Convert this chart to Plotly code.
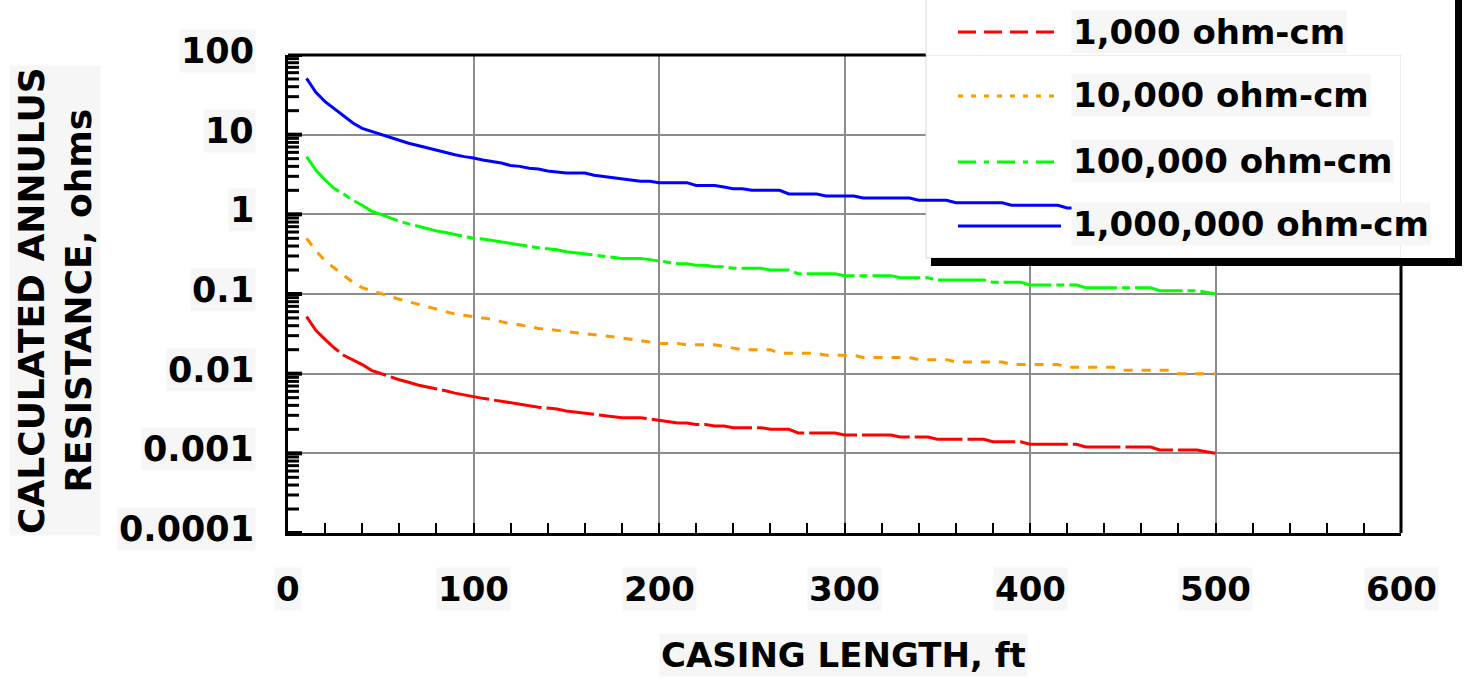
import math
import plotly.graph_objects as go

# Casing length, ft
casing_length = [
    10, 15, 20, 25, 30, 35, 40, 45, 50, 55,
    60, 65, 70, 75, 80, 85, 90, 95, 100, 105,
    110, 115, 120, 125, 130, 135, 140, 145, 150, 155,
    160, 165, 170, 175, 180, 185, 190, 195, 200, 205,
    210, 215, 220, 225, 230, 235, 240, 245, 250, 255,
    260, 265, 270, 275, 280, 285, 290, 295, 300, 305,
    310, 315, 320, 325, 330, 335, 340, 345, 350, 355,
    360, 365, 370, 375, 380, 385, 390, 395, 400, 405,
    410, 415, 420, 425, 430, 435, 440, 445, 450, 455,
    460, 465, 470, 475, 480, 485, 490, 495, 500,
]

# Calculated annulus resistance, ohms, for each soil resistivity
r_1000 = [
    0.052, 0.035, 0.027, 0.021, 0.017, 0.015, 0.013, 0.011, 0.010, 0.0092,
    0.0084, 0.0078, 0.0072, 0.0068, 0.0065, 0.0061, 0.0057, 0.0054, 0.0051, 0.0049,
    0.0047, 0.0045, 0.0043, 0.0041, 0.0040, 0.0038, 0.0037, 0.0036, 0.0034, 0.0033,
    0.0032, 0.0031, 0.0030, 0.0029, 0.0028, 0.0028, 0.0028, 0.0027, 0.0026, 0.0025,
    0.0024, 0.0024, 0.0023, 0.0023, 0.0022, 0.0022, 0.0021, 0.0021, 0.0021, 0.0021,
    0.0020, 0.0020, 0.0020, 0.0018, 0.0018, 0.0018, 0.0018, 0.0018, 0.0017, 0.0017,
    0.0017, 0.0017, 0.0017, 0.0017, 0.0016, 0.0016, 0.0016, 0.0016, 0.0015, 0.0015,
    0.0015, 0.0015, 0.0015, 0.0015, 0.0014, 0.0014, 0.0014, 0.0014, 0.0013, 0.0013,
    0.0013, 0.0013, 0.0013, 0.0013, 0.0012, 0.0012, 0.0012, 0.0012, 0.0012, 0.0012,
    0.0012, 0.0012, 0.0011, 0.0011, 0.0011, 0.0011, 0.0011, 0.00105, 0.0010,
]

r_10000 = [
    0.50, 0.35, 0.26, 0.21, 0.17, 0.14, 0.12, 0.11, 0.10, 0.093,
    0.086, 0.080, 0.074, 0.069, 0.064, 0.060, 0.056, 0.054, 0.052, 0.050,
    0.048, 0.045, 0.042, 0.041, 0.039, 0.037, 0.036, 0.035, 0.034, 0.033,
    0.032, 0.031, 0.030, 0.029, 0.028, 0.027, 0.026, 0.025, 0.024, 0.024,
    0.024, 0.023, 0.023, 0.023, 0.023, 0.022, 0.021, 0.020, 0.020, 0.020,
    0.020, 0.018, 0.018, 0.018, 0.018, 0.018, 0.017, 0.017, 0.017, 0.017,
    0.016, 0.016, 0.016, 0.016, 0.016, 0.016, 0.015, 0.015, 0.015, 0.015,
    0.014, 0.014, 0.014, 0.014, 0.014, 0.014, 0.013, 0.013, 0.013, 0.013,
    0.013, 0.013, 0.012, 0.012, 0.012, 0.012, 0.012, 0.012, 0.011, 0.011,
    0.011, 0.011, 0.011, 0.011, 0.010, 0.010, 0.010, 0.010, 0.010,
]

r_100000 = [
    5.3, 3.6, 2.7, 2.1, 1.8, 1.5, 1.3, 1.1, 1.0, 0.90,
    0.82, 0.76, 0.71, 0.66, 0.62, 0.59, 0.56, 0.53, 0.50, 0.49,
    0.47, 0.45, 0.43, 0.41, 0.40, 0.38, 0.37, 0.36, 0.34, 0.33,
    0.32, 0.31, 0.30, 0.29, 0.28, 0.28, 0.28, 0.27, 0.26, 0.25,
    0.24, 0.24, 0.23, 0.23, 0.22, 0.22, 0.21, 0.21, 0.21, 0.21,
    0.20, 0.20, 0.20, 0.18, 0.18, 0.18, 0.18, 0.18, 0.17, 0.17,
    0.17, 0.17, 0.17, 0.17, 0.16, 0.16, 0.16, 0.16, 0.15, 0.15,
    0.15, 0.15, 0.15, 0.15, 0.14, 0.14, 0.14, 0.14, 0.13, 0.13,
    0.13, 0.13, 0.13, 0.13, 0.12, 0.12, 0.12, 0.12, 0.12, 0.12,
    0.12, 0.12, 0.11, 0.11, 0.11, 0.11, 0.11, 0.105, 0.10,
]

r_1000000 = [
    51, 34, 26, 21, 17, 14, 12, 11, 10, 9.2,
    8.5, 7.8, 7.3, 6.8, 6.4, 6.0, 5.6, 5.3, 5.1, 4.8,
    4.6, 4.4, 4.1, 4.0, 3.8, 3.7, 3.5, 3.4, 3.3, 3.3,
    3.3, 3.1, 3.0, 2.9, 2.8, 2.7, 2.6, 2.6, 2.5, 2.5,
    2.5, 2.5, 2.3, 2.3, 2.3, 2.2, 2.1, 2.1, 2.0, 2.0,
    2.0, 2.0, 1.8, 1.8, 1.8, 1.8, 1.7, 1.7, 1.7, 1.7,
    1.6, 1.6, 1.6, 1.6, 1.6, 1.6, 1.5, 1.5, 1.5, 1.5,
    1.4, 1.4, 1.4, 1.4, 1.4, 1.4, 1.3, 1.3, 1.3, 1.3,
    1.3, 1.3, 1.2, 1.2, 1.2, 1.2, 1.2, 1.2, 1.2, 1.1,
    1.1, 1.1, 1.1, 1.1, 1.1, 1.1, 1.1, 1.0, 1.0,
]

series_names = ["1,000 ohm-cm", "10,000 ohm-cm", "100,000 ohm-cm", "1,000,000 ohm-cm"]
series_values = [r_1000, r_10000, r_100000, r_1000000]
series_colors = ["#ff0000", "#ff9900", "#00ff00", "#0000ff"]
plot_dash = ["48px,5px", "9px,9px", "48px,5px,8px,5px", "solid"]
legend_dash = ["18px,8px", "5px,8px", "18px,8px,5px,8px", "solid"]

x_ticks = [0, 100, 200, 300, 400, 500, 600]
y_ticks = [100, 10, 1, 0.1, 0.01, 0.001, 0.0001]
y_tick_text = ["100", "10", "1", "0.1", "0.01", "0.001", "0.0001"]

X_RANGE = [0, 600]
Y_RANGE_LOG = [-4, 2]

FONT = "DejaVu Sans"
LABEL_BG = "#f6f6f6"

# figure geometry (pixels)
W, H = 1466, 680
L_M, R_M, T_M, B_M = 288, 65, 55, 147
PW, PH = W - L_M - R_M, H - T_M - B_M


def fx(px):
    """pixel column -> paper x"""
    return (px - L_M) / PW


def fy(py):
    """pixel row -> paper y"""
    return (H - B_M - py) / PH


def px_to_xval(px):
    return X_RANGE[0] + fx(px) * (X_RANGE[1] - X_RANGE[0])


def py_to_yval(py):
    return 10 ** (Y_RANGE_LOG[0] + fy(py) * (Y_RANGE_LOG[1] - Y_RANGE_LOG[0]))


fig = go.Figure()

# inward log ticks along the left axis (every digit 1..9 of each decade)
major_x, major_y, minor_x, minor_y = [], [], [], []
for e in range(Y_RANGE_LOG[0], Y_RANGE_LOG[1] + 1):
    for k in range(1, 10):
        v = k * 10 ** e
        if math.log10(v) > Y_RANGE_LOG[1] + 1e-9:
            break
        if k == 1:
            major_x += [0, px_to_xval(L_M + 14), None]
            major_y += [v, v, None]
        else:
            minor_x += [0, px_to_xval(L_M + 11), None]
            minor_y += [v, v, None]
fig.add_trace(go.Scatter(x=minor_x, y=minor_y, mode="lines", hoverinfo="skip",
                         line=dict(color="black", width=3), showlegend=False,
                         cliponaxis=False))
fig.add_trace(go.Scatter(x=major_x, y=major_y, mode="lines", hoverinfo="skip",
                         line=dict(color="black", width=4), showlegend=False,
                         cliponaxis=False))

for name, vals, col, dash in zip(series_names, series_values, series_colors, plot_dash):
    fig.add_trace(go.Scatter(
        x=casing_length, y=vals, mode="lines", name=name,
        line=dict(color=col, width=3, dash=dash),
        showlegend=False,
    ))

# legend panel geometry (pixels)
LEG_L, LEG_R, LEG_B = 926, 1455, 258

shapes = []
# legend panel inside the plot: above the grid, beneath the curves
shapes.append(dict(type="rect", xref="x", yref="y",
                   x0=px_to_xval(LEG_L), x1=X_RANGE[1],
                   y0=py_to_yval(LEG_B), y1=10 ** Y_RANGE_LOG[1],
                   fillcolor="white", line=dict(color="#d9d9d9", width=1), layer="between"))
# top and right frame lines, stopping at the legend panel
shapes.append(dict(type="line", xref="paper", yref="paper", x0=0, x1=fx(LEG_L), y0=1, y1=1,
                   line=dict(color="black", width=3), layer="above"))
shapes.append(dict(type="line", xref="paper", yref="paper", x0=1, x1=1, y0=0, y1=fy(LEG_B),
                   line=dict(color="black", width=3), layer="above"))
# legend panel left edge above the plot area
shapes.append(dict(type="line", xref="paper", yref="paper", x0=fx(LEG_L), x1=fx(LEG_L),
                   y0=1, y1=fy(-20), line=dict(color="#d9d9d9", width=1), layer="above"))
# drop shadow
shapes.append(dict(type="rect", xref="paper", yref="paper",
                   x0=fx(LEG_R), x1=fx(LEG_R + 7), y0=fy(LEG_B + 8), y1=fy(-20),
                   fillcolor="black", line=dict(width=0), layer="above"))
shapes.append(dict(type="rect", xref="paper", yref="paper",
                   x0=fx(LEG_L + 5), x1=fx(LEG_R + 7), y0=fy(LEG_B + 8), y1=fy(LEG_B),
                   fillcolor="black", line=dict(width=0), layer="above"))

annotations = []
row_line_y = [32, 96, 162, 226]
row_text_y = [32, 95, 161, 224]
for name, col, dash, ly, ty in zip(series_names, series_colors, legend_dash, row_line_y, row_text_y):
    shapes.append(dict(type="line", xref="paper", yref="paper",
                       x0=fx(958), x1=fx(1061), y0=fy(ly), y1=fy(ly),
                       line=dict(color=col, width=3, dash=dash), layer="above"))
    annotations.append(dict(text=name, xref="paper", yref="paper", x=fx(1071), y=fy(ty),
                            xanchor="left", yanchor="middle", showarrow=False,
                            bgcolor=LABEL_BG, borderpad=1,
                            font=dict(family=FONT, size=34, color="black", weight="bold")))

# axis tick labels
for v in x_ticks:
    annotations.append(dict(text=str(v), xref="x", yref="paper", x=v, y=fy(589),
                            xanchor="center", yanchor="middle", showarrow=False,
                            bgcolor=LABEL_BG, borderpad=1,
                            font=dict(family=FONT, size=34, color="black", weight="bold")))
for v, t in zip(y_ticks, y_tick_text):
    annotations.append(dict(text=t, xref="paper", yref="y", x=fx(256), y=math.log10(v),
                            xanchor="right", yanchor="middle", yshift=4, showarrow=False,
                            bgcolor=LABEL_BG, borderpad=1,
                            font=dict(family=FONT, size=35, color="black", weight="bold")))

# axis titles
annotations.append(dict(text="CASING LENGTH, ft", xref="paper", yref="paper",
                        x=fx(843), y=fy(655), xanchor="center", yanchor="middle",
                        showarrow=False, bgcolor=LABEL_BG, borderpad=1,
                        font=dict(family=FONT, size=34, color="black", weight="bold")))
annotations.append(dict(text="CALCULATED ANNULUS<br>RESISTANCE, ohms", xref="paper", yref="paper",
                        x=fx(55), y=fy(300), xanchor="center", yanchor="middle",
                        textangle=-90, showarrow=False, bgcolor=LABEL_BG, borderpad=1,
                        font=dict(family=FONT, size=36, color="black", weight="bold")))

fig.update_layout(
    width=W, height=H, autosize=False,
    margin=dict(l=L_M, r=R_M, t=T_M, b=B_M, pad=0),
    paper_bgcolor="white", plot_bgcolor="white",
    showlegend=False,
    shapes=shapes, annotations=annotations,
    xaxis=dict(
        range=X_RANGE, tick0=0, dtick=100, showticklabels=False,
        showline=True, linecolor="black", linewidth=3, mirror=False,
        ticks="inside", ticklen=10, tickwidth=2, tickcolor="black",
        showgrid=True, gridcolor="#8c8c8c", gridwidth=2, zeroline=False,
        minor=dict(dtick=20, ticks="inside", ticklen=10, tickwidth=2,
                   tickcolor="black", showgrid=False),
    ),
    yaxis=dict(
        type="log", range=Y_RANGE_LOG, dtick=1, showticklabels=False,
        showline=True, linecolor="black", linewidth=3, mirror=False,
        ticks="", showgrid=True, gridcolor="#8c8c8c", gridwidth=2, zeroline=False,
    ),
)

fig.write_html("out.html")
